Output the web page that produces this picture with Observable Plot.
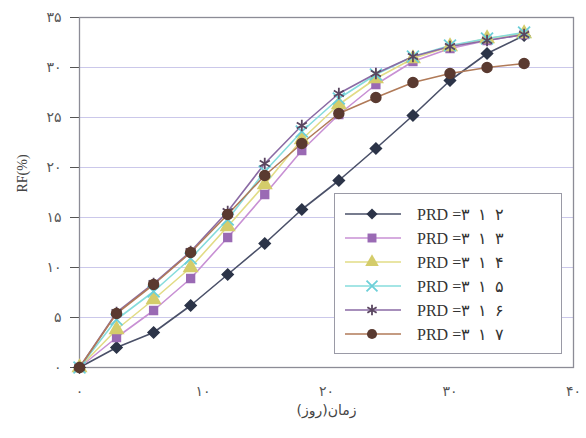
<!DOCTYPE html>
<html>
<head>
<meta charset="utf-8">
<script src="https://cdn.jsdelivr.net/npm/d3@7"></script>
<script src="https://cdn.jsdelivr.net/npm/@observablehq/plot@0.6"></script>
<style>
  html, body { margin: 0; padding: 0; background: #fff; }
  #wrap { position: relative; width: 586px; height: 438px; }
  #legend {
    position: absolute; left: 334px; top: 193px; width: 228px; height: 161px;
    background: #fff; border: 1px solid #9a9aa6; box-sizing: border-box;
    padding-top: 8px;
  }
  .row { display: flex; align-items: center; height: 24px; }
  .row svg { margin-left: 10px; }
  .row span { margin-left: 16px; font-family: "Liberation Serif", "DejaVu Serif", serif; font-size: 16px; color: #333; white-space: pre; }
</style>
</head>
<body>
<div id="wrap"><div id="legend"></div></div>
<script>
const days = [0, 3, 6, 9, 12, 15, 18, 21, 24, 27, 30, 33, 36];
const prd2 = [0, 2.0, 3.5, 6.2, 9.3, 12.4, 15.8, 18.7, 21.9, 25.2, 28.7, 31.4, 33.2];
const prd3 = [0, 3.0, 5.7, 8.9, 13.0, 17.3, 21.7, 25.3, 28.3, 30.6, 31.9, 32.7, 33.3];
const prd4 = [0, 3.8, 6.8, 10.0, 14.1, 18.3, 22.8, 26.3, 28.9, 30.9, 32.1, 32.9, 33.4];
const prd5 = [0, 4.8, 7.6, 10.9, 14.8, 19.6, 23.6, 26.9, 29.3, 31.1, 32.2, 32.9, 33.5];
const prd6 = [0, 5.5, 8.4, 11.6, 15.6, 20.4, 24.2, 27.4, 29.4, 31.1, 32.1, 32.7, 33.3];
const prd7 = [0, 5.4, 8.3, 11.5, 15.3, 19.2, 22.4, 25.4, 27.0, 28.5, 29.4, 30.0, 30.4];

const seriesNames = ["PRD =۳  ۱  ۲", "PRD =۳  ۱  ۳", "PRD =۳  ۱  ۴", "PRD =۳  ۱  ۵", "PRD =۳  ۱  ۶", "PRD =۳  ۱  ۷"];
const seriesValues = [prd2, prd3, prd4, prd5, prd6, prd7];
const lineColors = ["#4a5068", "#c890d4", "#e2dc86", "#86dcdc", "#8a6aa4", "#b07a58"];
const markColors = ["#2c3448", "#9a6ab4", "#d4cc6a", "#6ccfd8", "#5a4660", "#5a3a30"];
const symbols = ["diamond2", "square", "triangle", "times", "asterisk", "circle"];
const filled = [true, true, true, false, false, true];

const xTicks = [0, 10, 20, 30, 40];
const yTicks = [0, 5, 10, 15, 20, 25, 30, 35];
const xLabel = "زمان(روز)";
const yLabel = "RF(%)";

const fa = v => String(v).replace(/\d/g, d => "۰۱۲۳۴۵۶۷۸۹"[d]);

const rows = [];
seriesValues.forEach((vals, i) => {
  vals.forEach((v, j) => rows.push({ s: i, day: days[j], rf: v }));
});

const marks = [
  Plot.ruleY(yTicks, { stroke: "#cbc8ea", strokeWidth: 1.2 }),
  Plot.frame({ stroke: "#8c8c96", strokeWidth: 1.3 }),
];
seriesValues.forEach((vals, i) => {
  const d = rows.filter(r => r.s === i);
  marks.push(Plot.line(d, { x: "day", y: "rf", stroke: lineColors[i], strokeWidth: 1.6 }));
});
seriesValues.forEach((vals, i) => {
  const d = rows.filter(r => r.s === i);
  marks.push(Plot.dot(d, filled[i]
    ? { x: "day", y: "rf", symbol: () => symbols[i], fill: markColors[i], stroke: markColors[i], r: symbols[i] === "square" ? 4.4 : 5 }
    : { x: "day", y: "rf", symbol: () => symbols[i], stroke: markColors[i], strokeWidth: 1.8, r: 5.5 }));
});
marks.push(Plot.text([xLabel], { frameAnchor: "bottom", dy: 47, fontSize: 14, fill: "#444", fontFamily: "DejaVu Sans" }));
marks.push(Plot.text([yLabel], { frameAnchor: "left", dx: -57, rotate: -90, fontSize: 14, fill: "#444", fontFamily: "Liberation Serif" }));

const chart = Plot.plot({
  width: 586, height: 438,
  marginLeft: 79, marginRight: 13, marginTop: 17, marginBottom: 71,
  style: { fontFamily: "DejaVu Sans", fontSize: "14px", background: "transparent", color: "#555" },
  x: { domain: [0, 40], ticks: xTicks, tickFormat: fa, tickSize: 0, tickPadding: 19, label: null },
  y: { domain: [0, 35], ticks: yTicks, tickFormat: fa, tickSize: 9, tickPadding: 9, label: null },
  marks
});
document.getElementById("wrap").prepend(chart);

const legend = d3.select("#legend");
const symMap = { diamond2: d3.symbolDiamond2, square: d3.symbolSquare, triangle: d3.symbolTriangle, times: d3.symbolTimes, asterisk: d3.symbolAsterisk, circle: d3.symbolCircle };
seriesNames.forEach((name, i) => {
  const row = legend.append("div").attr("class", "row");
  const svg = row.append("svg").attr("width", 56).attr("height", 20);
  svg.append("line").attr("x1", 0).attr("x2", 56).attr("y1", 10).attr("y2", 10)
    .attr("stroke", lineColors[i]).attr("stroke-width", 1.6);
  const p = svg.append("path").attr("transform", "translate(27,10)")
    .attr("d", d3.symbol(symMap[symbols[i]], 80)());
  if (filled[i]) p.attr("fill", markColors[i]);
  else p.attr("fill", "none").attr("stroke", markColors[i]).attr("stroke-width", 1.8);
  row.append("span").text(name);
});
</script>
</body>
</html>
